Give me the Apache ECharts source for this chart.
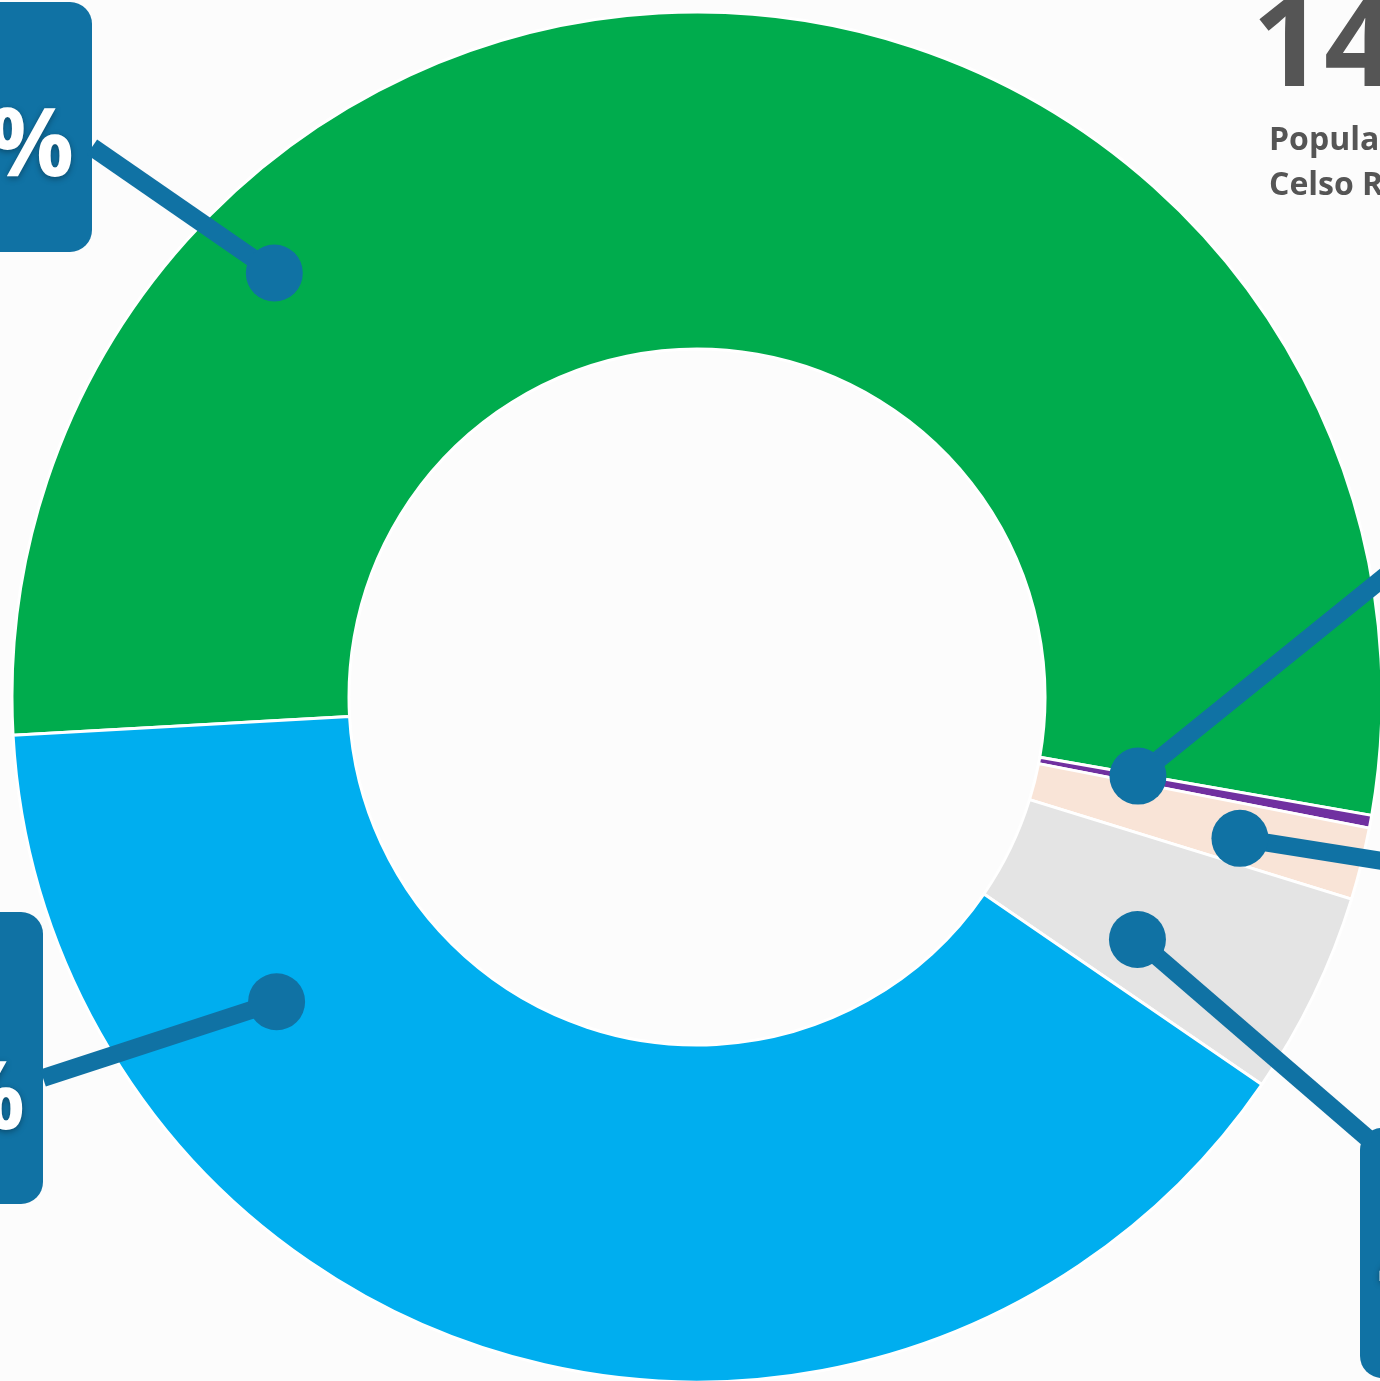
<!DOCTYPE html>
<html><head><meta charset="utf-8">
<script src="https://cdn.jsdelivr.net/npm/echarts@6/dist/echarts.min.js"></script>
<style>html,body{margin:0;padding:0;background:#fcfcfc;overflow:hidden}#c{width:1380px;height:1381px}</style>
</head><body><div id="c"></div>
<script>
// ---- data ----
const categories = ['Branca', 'Indígena', 'Amarela', 'Preta', 'Parda'];
const values = [53.6, 0.3, 1.7, 4.8, 39.5];
const titleNumber = '14';
const subtitleLines = ['População de', 'Celso Ramos'];

// ---- styles / layout ----
const colors = ['#00ac4d', '#7030a0', '#f9e4d7', '#e4e4e4', '#00aeef'];
const DARK = '#1072a4';
const CX = 697, CY = 697, R0 = 348, R1 = 685, START = 183.2;
// dot anchor: [fraction along the slice, fraction of outer radius]
const dotAnchor = [[0.25, 0.874], [0.2, 0.654], [0.58, 0.819], [0.675, 0.734], [0.77, 0.758]];
// label boxes (x/y anchor, alignment, padding, leader-line end point)
const labelBoxes = [
  { x: 92,   y: 2,    align: 'right', pad: [97, 18, 53, 30],  end: [92, 147] },
  { x: 1420, y: 430,  align: 'left',  pad: [90, 30, 60, 18],  end: [1420, 548] },
  { x: 1420, y: 760,  align: 'left',  pad: [90, 30, 60, 18],  end: [1420, 867] },
  { x: 1360, y: 1128, align: 'left',  pad: [90, 30, 60, 18],  end: [1372, 1142] },
  { x: 43,   y: 912,  align: 'right', pad: [140, 18, 52, 30], end: [43, 1078] }
];

const total = values.reduce((a, b) => a + b, 0);
const cum = [];
values.reduce((acc, v, i) => { cum[i] = acc; return acc + v; }, 0);
const dotData = values.map((v, i) => [dotAnchor[i][1], cum[i] + dotAnchor[i][0] * v]);

const chart = echarts.init(document.getElementById('c'), null, { renderer: 'canvas' });
const fmt = v => v.toFixed(1).replace('.', ',') + '%';

chart.setOption({
  backgroundColor: '#fcfcfc',
  animation: false,
  title: [
    { text: titleNumber, left: 1252, top: -13, padding: 0,
      textStyle: { fontSize: 126, fontWeight: 'bold', color: '#555', fontFamily: 'Open Sans', lineHeight: 126 } },
    { text: subtitleLines.join('\n'), left: 1269, top: 118, padding: 0,
      textStyle: { fontSize: 32, fontWeight: 'bold', color: '#555', fontFamily: 'Open Sans', lineHeight: 45 } }
  ],
  polar: { center: [CX, CY], radius: R1 },
  angleAxis: { type: 'value', min: 0, max: total, startAngle: START, clockwise: true, show: false },
  radiusAxis: { type: 'value', min: 0, max: 1, show: false },
  series: [
    {
      type: 'pie',
      center: [CX, CY],
      radius: [R0, R1],
      startAngle: START,
      clockwise: true,
      avoidLabelOverlap: false,
      silent: true,
      emphasis: { disabled: true },
      itemStyle: { borderColor: '#ffffff', borderWidth: 3 },
      label: {
        show: true,
        position: 'outside',
        formatter: p => fmt(values[p.dataIndex]),
        fontFamily: 'Open Sans',
        fontSize: 95,
        fontWeight: 'bold',
        color: '#fff',
        lineHeight: 100,
        width: 260,
        overflow: 'none',
        backgroundColor: DARK,
        borderRadius: 22,
        textShadowColor: 'rgba(0,0,0,0.35)',
        textShadowBlur: 6,
        textShadowOffsetY: 2
      },
      labelLine: { show: false },
      labelLayout: function (params) {
        const b = labelBoxes[params.dataIndex];
        return { x: b.x, y: b.y, align: b.align, verticalAlign: 'top' };
      },
      data: values.map((v, i) => ({
        name: categories[i], value: v,
        itemStyle: { color: colors[i] },
        label: { padding: labelBoxes[i].pad, align: labelBoxes[i].align }
      }))
    },
    {
      type: 'custom',
      coordinateSystem: 'polar',
      silent: true,
      z: 10,
      data: dotData,
      renderItem: function (params, api) {
        const p = api.coord([api.value(0), api.value(1)]);
        const end = labelBoxes[params.dataIndex].end;
        return {
          type: 'group',
          children: [
            { type: 'polyline', shape: { points: [[p[0], p[1]], end] },
              style: { stroke: DARK, lineWidth: 18, fill: null, lineCap: 'butt' } },
            { type: 'circle', shape: { cx: p[0], cy: p[1], r: 28.5 },
              style: { fill: DARK } }
          ]
        };
      }
    }
  ]
});
</script></body></html>
